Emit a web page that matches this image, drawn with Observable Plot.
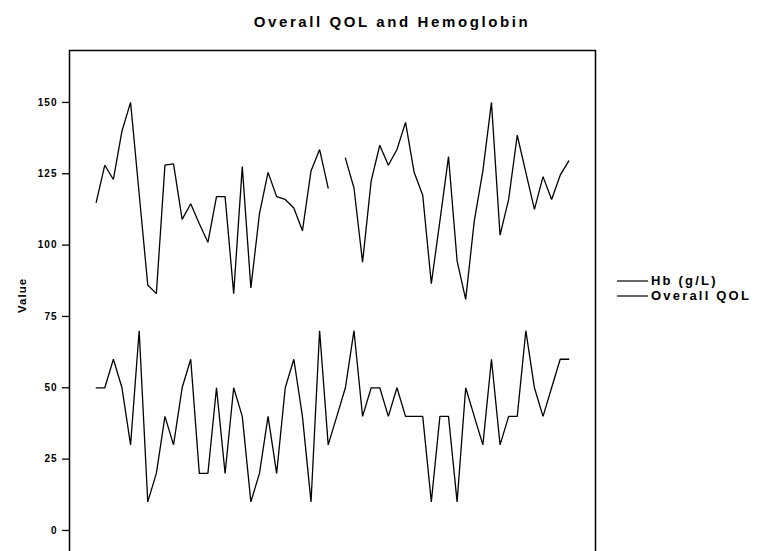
<!DOCTYPE html>
<html>
<head>
<meta charset="utf-8">
<script src="https://cdn.jsdelivr.net/npm/d3@7"></script>
<script src="https://cdn.jsdelivr.net/npm/@observablehq/plot@0.6"></script>
<style>
  html, body { margin: 0; padding: 0; background: #fff; overflow: hidden; }
  body { width: 757px; height: 551px; position: relative; font-family: "Liberation Sans", Arial, sans-serif; }
  #title { position: absolute; top: 13px; left: 0; width: 784px; text-align: center;
           font-size: 15px; font-weight: bold; letter-spacing: 2.6px; color: #000; }
  #chart { position: absolute; top: 36px; left: 0; }
  #legend { position: absolute; left: 617px; top: 273px; font-size: 13px; font-weight: bold;
            letter-spacing: 2.2px; color: #000; line-height: 15px; }
  .row { display: flex; align-items: center; height: 15px; }
  .row svg { margin-right: 3px; }
</style>
</head>
<body>
<div id="title">Overall QOL and Hemoglobin</div>
<div id="chart"></div>
<div id="legend"></div>
<script>
// Observation number for each patient visit
const obs = d3.range(1, 57);

// Hemoglobin, g/L (null = not recorded)
const hb = [
  115, 128, 123, 140, 150, 118, 86, 83, 128, 128.5, 109, 114.5, 107.5, 101,
  117, 117, 83, 127.5, 85, 111, 125.5, 117, 116, 113, 105, 126, 133.5, 120,
  null, 130.5, 120, 94, 122.5, 135, 128, 133.5, 143, 125.5, 117.5, 86.5, 108.5, 131,
  94.5, 81, 108.5, 126, 150, 103.5, 116, 138.5, 125.5, 112.5, 124, 116, 124.5, 129.5
];

// Overall quality-of-life score
const qol = [
  50, 50, 60, 50, 30, 70, 10, 20, 40, 30, 50, 60, 20, 20,
  50, 20, 50, 40, 10, 20, 40, 20, 50, 60, 40, 10, 70, 30,
  40, 50, 70, 40, 50, 50, 40, 50, 40, 40, 40, 10, 40, 40,
  10, 50, 40, 30, 60, 30, 40, 40, 70, 50, 40, 50, 60, 60
];

const seriesNames = ["Hb (g/L)", "Overall QOL"];
const yTicks = [0, 25, 50, 75, 100, 125, 150];
const yTitle = "Value";

// Long table: one row per observation and series
const rows = [];
obs.forEach((o, i) => {
  rows.push({obs: o, value: hb[i], series: seriesNames[0]});
  rows.push({obs: o, value: qol[i], series: seriesNames[1]});
});

const chart = Plot.plot({
  width: 757,
  height: 553,
  marginLeft: 69,
  marginRight: 162,
  marginTop: 14,
  marginBottom: 30,
  style: {
    fontFamily: "'Liberation Sans', Arial, sans-serif",
    fontSize: "10px",
    fontWeight: "bold",
    letterSpacing: "1px",
    color: "#000",
    background: "#fff"
  },
  x: {domain: [1, 56], range: [95.7, 568.3], axis: null},
  y: {domain: [-10, 168.2], range: [522.5, 14]},
  marks: [
    Plot.frame({stroke: "#000", strokeWidth: 1.5}),
    Plot.axisY({
      ticks: yTicks,
      tickSize: 7,
      tickPadding: 5,
      stroke: "#000",
      strokeWidth: 1.3,
      strokeOpacity: 1,
      label: null,
      fontSize: 10
    }),
    // Rotated y-axis title beside the tick labels
    Plot.text([yTitle], {
      frameAnchor: "left",
      text: (d) => d,
      rotate: -90,
      dx: -47,
      dy: 8,
      fontSize: 11.5,
      fontWeight: "bold",
      fill: "#000",
      style: {letterSpacing: "0.6px"}
    }),
    Plot.line(rows, {
      x: "obs",
      y: "value",
      z: "series",
      stroke: "#000",
      strokeWidth: 1.3,
      strokeLinejoin: "miter"
    })
  ]
});
document.getElementById("chart").appendChild(chart);

// Legend to the right of the plot frame
const legend = d3.select("#legend");
seriesNames.forEach((name) => {
  const row = legend.append("div").attr("class", "row");
  const s = row.append("svg").attr("width", 31).attr("height", 4);
  s.append("line").attr("x1", 0).attr("x2", 31).attr("y1", 2).attr("y2", 2)
    .attr("stroke", "#000").attr("stroke-width", 1.2);
  row.append("span").text(name);
});
</script>
</body>
</html>
